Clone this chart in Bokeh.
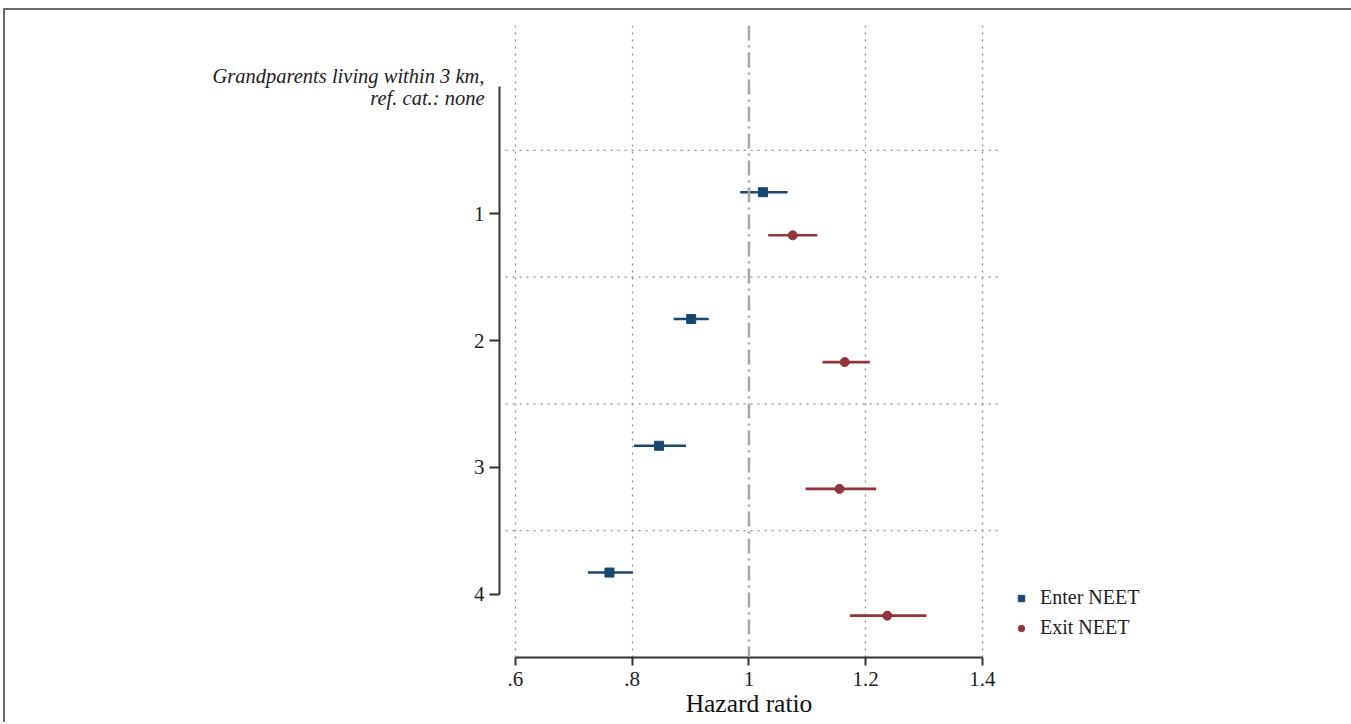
import numpy as np
from bokeh.plotting import figure
from bokeh.models import (Range1d, LinearAxis, FixedTicker, Span, Legend,
                          LegendItem, ColumnDataSource, Grid)
from bokeh.embed import file_html
from bokeh.resources import INLINE

# ---- data ----
categories = [1, 2, 3, 4]
heading = "Grandparents living within 3 km,\nref. cat.: none"
x_ticks = [0.6, 0.8, 1.0, 1.2, 1.4]
x_tick_labels = [".6", ".8", "1", "1.2", "1.4"]

enter_hr = [1.024, 0.901, 0.846, 0.761]
enter_lo = [0.985, 0.871, 0.803, 0.724]
enter_hi = [1.066, 0.931, 0.892, 0.801]

exit_hr = [1.075, 1.164, 1.155, 1.237]
exit_lo = [1.033, 1.126, 1.097, 1.173]
exit_hi = [1.117, 1.207, 1.218, 1.304]

BLUE = "#1a476f"
RED = "#90353b"
FONT = "Liberation Serif"
OFFSET = 0.17

p = figure(frame_width=499, frame_height=632, output_backend="svg", toolbar_location=None,
           x_range=Range1d(0.5726, 1.4275), y_range=Range1d(4.5, -0.485),
           x_axis_type=None, y_axis_type=None,
           min_border_left=499, min_border_right=93,
           min_border_top=25, min_border_bottom=65)
p.outline_line_color = None
p.border_fill_color = None
p.background_fill_color = "white"
p.styles = {"box-shadow": "inset 0 8px 0 0 white, inset 3px 0 0 0 white, "
                          "inset 5px 10px 0 0 #6a6a6a, inset -2px 0 0 0 #6a6a6a"}

# axes
xaxis = LinearAxis(ticker=FixedTicker(ticks=x_ticks), bounds=(0.6, 1.4),
                   axis_label="Hazard ratio")
xaxis.major_label_overrides = {t: l for t, l in zip(x_ticks, x_tick_labels)}
xaxis.major_label_text_font = FONT
xaxis.major_label_text_font_size = "21px"
xaxis.major_label_text_color = "#222222"
xaxis.axis_label_text_font = FONT
xaxis.axis_label_text_font_style = "normal"
xaxis.axis_label_text_font_size = "25.5px"
xaxis.axis_label_text_color = "#111111"
xaxis.axis_label_standoff = 0
xaxis.major_label_standoff = 6
xaxis.major_tick_out = 8
xaxis.major_tick_in = 0
xaxis.minor_tick_out = 0
xaxis.minor_tick_in = 0
xaxis.axis_line_width = 2
xaxis.major_tick_line_width = 2
xaxis.axis_line_color = "#333333"
xaxis.major_tick_line_color = "#333333"
p.add_layout(xaxis, "below")

yaxis = LinearAxis(ticker=FixedTicker(ticks=categories), bounds=(0, 4))
yaxis.major_label_text_font = FONT
yaxis.major_label_text_font_size = "21px"
yaxis.major_label_text_color = "#222222"
yaxis.major_label_standoff = 5
yaxis.major_tick_out = 10
yaxis.major_tick_in = 0
yaxis.minor_tick_out = 0
yaxis.minor_tick_in = 0
yaxis.axis_line_width = 2
yaxis.major_tick_line_width = 2
yaxis.axis_line_color = "#333333"
yaxis.major_tick_line_color = "#333333"
p.add_layout(yaxis, "left")

# heading of the reference category, as an extra left axis with a single tick
haxis = LinearAxis(ticker=FixedTicker(ticks=[0]))
haxis.major_label_overrides = {0: heading}
haxis.major_label_text_font = FONT
haxis.major_label_text_font_style = "italic"
haxis.major_label_text_font_size = "20.5px"
haxis.major_label_text_line_height = 0.96
haxis.major_label_text_color = "#222222"
haxis.major_label_standoff = -14
haxis.major_tick_out = 0
haxis.major_tick_in = 0
haxis.minor_tick_out = 0
haxis.minor_tick_in = 0
haxis.axis_line_color = None
haxis.major_tick_line_color = None
haxis.minor_tick_line_color = None
p.add_layout(haxis, "left")

# vertical dotted grid
vgrid = Grid(dimension=0, ticker=FixedTicker(ticks=[t for t in x_ticks if t != 1.0]))
vgrid.grid_line_color = "#8f8f8f"
vgrid.grid_line_dash = "2 5"
vgrid.grid_line_width = 1.3
p.add_layout(vgrid)

# horizontal dotted separators between categories
seps = [c + 0.5 for c in categories[:-1]] + [0.5]
p.segment(x0=[0.583] * len(seps), x1=[1.427] * len(seps), y0=seps, y1=seps,
          line_color="#8f8f8f", line_dash="2 5", line_width=1.3)

# reference line at 1
p.add_layout(Span(location=1.0, dimension="height", line_color="#a6a6a6",
                  line_width=2.5, line_dash="15 5 2 5"))

# series
y_enter = np.array(categories) - OFFSET
y_exit = np.array(categories) + OFFSET
src_e = ColumnDataSource(dict(y=y_enter, hr=enter_hr, lo=enter_lo, hi=enter_hi))
src_x = ColumnDataSource(dict(y=y_exit, hr=exit_hr, lo=exit_lo, hi=exit_hi))

p.segment(x0="lo", x1="hi", y0="y", y1="y", source=src_e, line_color=BLUE, line_width=2.6)
p.segment(x0="lo", x1="hi", y0="y", y1="y", source=src_x, line_color=RED, line_width=2.6)
r_e = p.scatter(x="hr", y="y", source=src_e, marker="square", size=9,
                fill_color=BLUE, line_color=BLUE)
r_x = p.scatter(x="hr", y="y", source=src_x, marker="circle", size=9,
                fill_color=RED, line_color=RED)

legend = Legend(items=[LegendItem(label="Enter NEET", renderers=[r_e]),
                       LegendItem(label="Exit NEET", renderers=[r_x])],
                location=(15, 18), margin=0, padding=0, spacing=7,
                glyph_width=16, glyph_height=20, label_height=20, label_standoff=11,
                label_text_font=FONT, label_text_font_size="20px",
                label_text_color="#222222",
                background_fill_alpha=0, border_line_color=None)
p.add_layout(legend, "right")

open("out.html", "w").write(file_html(p, INLINE))
